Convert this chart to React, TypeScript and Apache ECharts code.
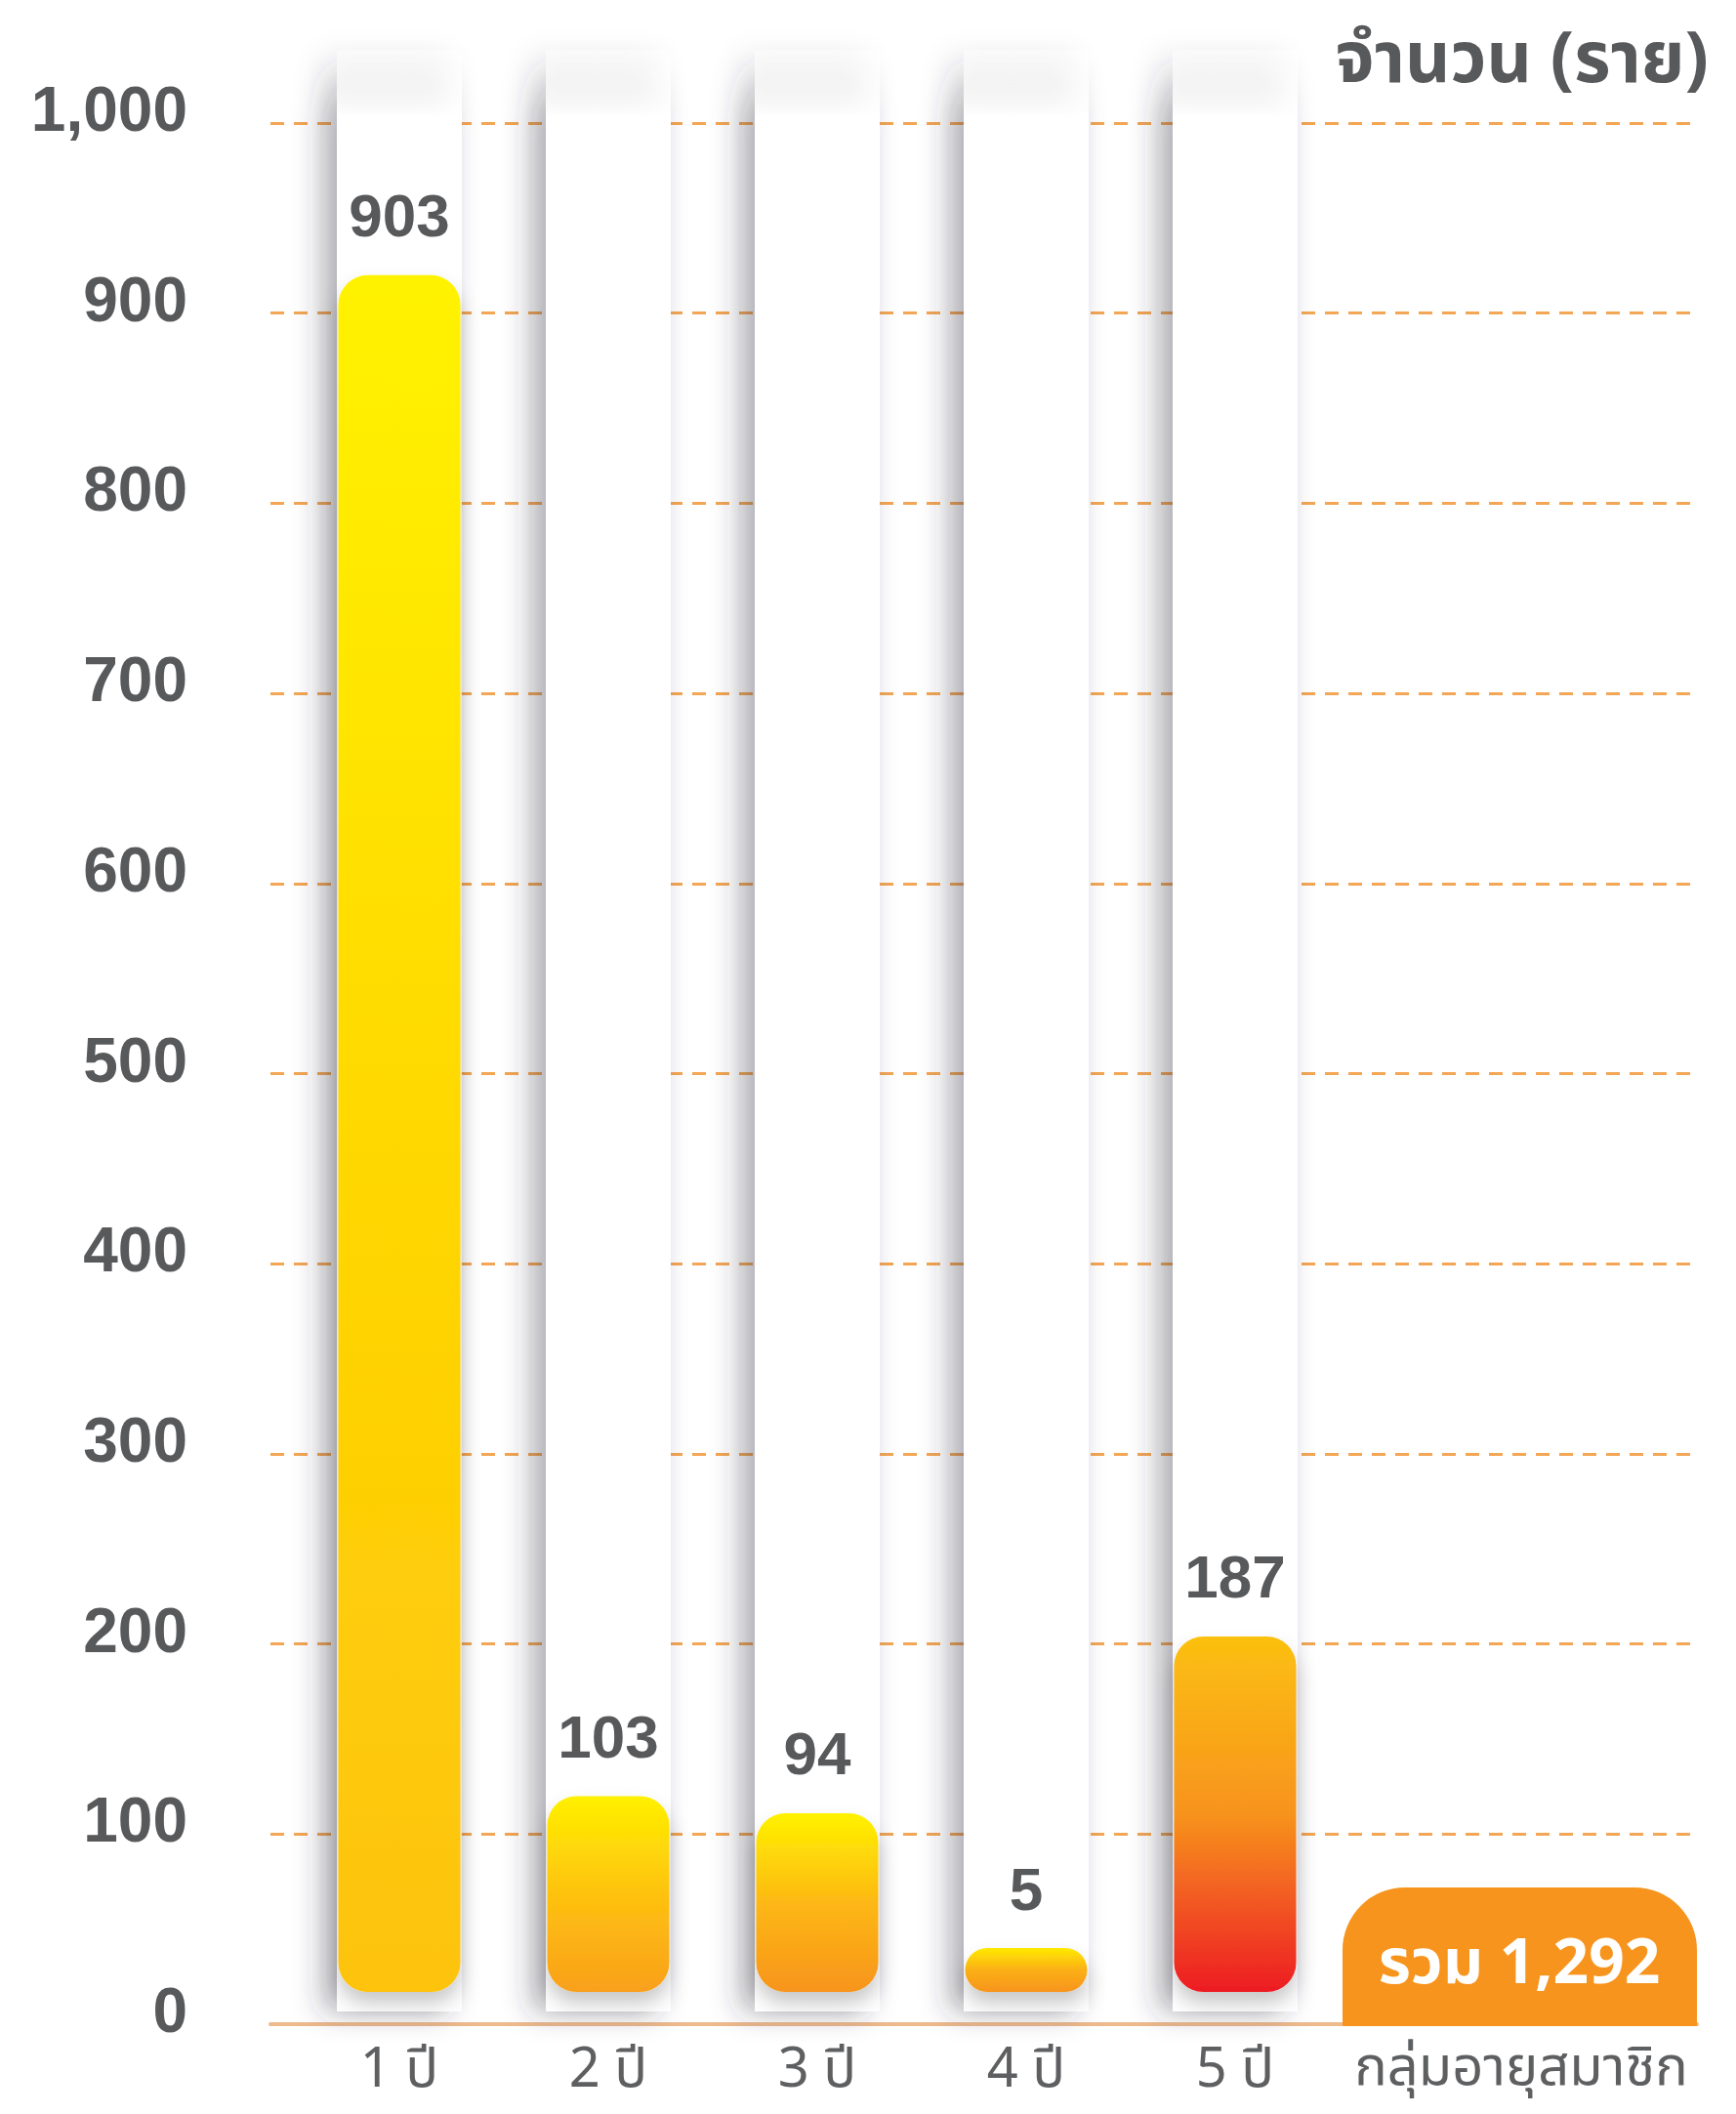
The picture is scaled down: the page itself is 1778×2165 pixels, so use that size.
import React, { useEffect, useRef } from 'react';
import * as echarts from 'echarts';

const categories = ['1 ปี', '2 ปี', '3 ปี', '4 ปี', '5 ปี'];
const members = [903, 103, 94, 5, 187];
const topColors = ['#FFF200', '#FFF000', '#FFF200', '#FFEA00', '#FCC010'];
const midColors = ['#FFD800', '#FEC20F', '#FDB813', '#FBB016', '#F7931E'];
const bottomColors = ['#FDC30E', '#F9A01B', '#F7941D', '#F7941D', '#ED1C24'];
const yMax = 1000;
const yStep = 100;
const yUnit = 'จำนวน (ราย)';
const xTitle = 'กลุ่มอายุสมาชิก';
const totalWord = 'รวม';

const THAI = "'Noto Sans Thai', 'Liberation Sans', 'DejaVu Sans', sans-serif";
const NUM = "'Liberation Sans', 'Noto Sans Thai', Arial, sans-serif";

export default function App() {
  const ref = useRef<HTMLDivElement>(null);
  useEffect(() => {
    if (!ref.current) return;
    const chart = echarts.init(ref.current, undefined, { renderer: 'svg' });
    const total = members.reduce((a, b) => a + b, 0);
    const option: any = {
      animation: false,
      backgroundColor: '#ffffff',
      grid: [
        { left: 277, right: 40, top: 126, bottom: 92 },
        { left: 302, right: 406, top: 50, bottom: 105 },
        { left: 302, right: 406, top: 93, bottom: 125 },
      ],
      xAxis: [
        {
          gridIndex: 0, type: 'value', min: 0, max: 1,
          axisLine: { show: true, lineStyle: { color: '#EDBA8C', width: 4 } },
          axisTick: { show: false }, axisLabel: { show: false }, splitLine: { show: false },
        },
        { gridIndex: 1, type: 'category', data: categories, show: false },
        {
          gridIndex: 2, type: 'category', data: categories,
          axisLine: { show: false }, axisTick: { show: false },
          axisLabel: { margin: 52, fontSize: 56, lineHeight: 56, color: '#5E5F61', fontFamily: THAI },
        },
      ],
      yAxis: [
        {
          gridIndex: 0, type: 'value', min: 0, max: yMax, interval: yStep,
          axisLine: { show: false }, axisTick: { show: false },
          axisLabel: {
            formatter: (v: number) => v.toLocaleString('en-US'),
            fontSize: 64, fontWeight: 'bold', color: '#58595B', fontFamily: NUM,
            margin: 85, verticalAlign: 'bottom', lineHeight: 28,
          },
          splitLine: { show: true, lineStyle: { type: [14, 10], color: '#F3A655', width: 3 } },
        },
        { gridIndex: 1, type: 'value', min: 0, max: 1, show: false },
        { gridIndex: 2, type: 'value', min: 0, max: yMax, show: false },
      ],
      series: [
        {
          type: 'bar', xAxisIndex: 1, yAxisIndex: 1, barWidth: 128, silent: true,
          data: categories.map(() => 1),
          itemStyle: {
            color: new echarts.graphic.LinearGradient(0, 0, 0, 1, [
              { offset: 0, color: 'rgba(255,255,255,0)' },
              { offset: 0.035, color: '#ffffff' },
              { offset: 1, color: '#ffffff' },
            ]),
            shadowColor: 'rgba(50,50,60,0.4)', shadowBlur: 30, shadowOffsetX: -14, shadowOffsetY: 0,
          },
          z: 2,
        },
        {
          type: 'bar', xAxisIndex: 2, yAxisIndex: 2, barWidth: 125, barMinHeight: 45,
          data: members.map((v, i) => ({
            value: v,
            itemStyle: {
              color: new echarts.graphic.LinearGradient(0, 0, 0, 1, [
                { offset: 0, color: topColors[i] },
                { offset: 0.5, color: midColors[i] },
                { offset: 1, color: bottomColors[i] },
              ]),
            },
          })),
          itemStyle: {
            borderRadius: 30,
            shadowColor: 'rgba(0,0,0,0.22)', shadowBlur: 20, shadowOffsetY: 12,
          },
          label: {
            show: true, position: 'top', distance: 30,
            fontSize: 62, fontWeight: 'bold', color: '#58595B', fontFamily: NUM,
          },
          z: 5,
        },
      ],
      graphic: [
        {
          type: 'text', z: 100, x: 1750, y: 62,
          style: { text: yUnit, fill: '#58595B', fontSize: 72, fontWeight: 'bold', fontFamily: THAI, align: 'right', verticalAlign: 'middle' },
        },
        {
          type: 'rect', z: 100,
          shape: { x: 1375, y: 1933, width: 363, height: 142, r: [64, 64, 0, 0] },
          style: { fill: '#F7941D' },
        },
        {
          type: 'text', z: 101, x: 1556, y: 2011,
          style: { text: `${totalWord} ${total.toLocaleString('en-US')}`, fill: '#ffffff', fontSize: 64, fontWeight: 'bold', fontFamily: THAI, align: 'center', verticalAlign: 'middle' },
        },
        {
          type: 'text', z: 100, x: 1558, y: 2118,
          style: { text: xTitle, fill: '#5E5F61', fontSize: 56, lineHeight: 50, fontFamily: THAI, align: 'center', verticalAlign: 'middle' },
        },
      ],
    };
    chart.setOption(option);
    return () => chart.dispose();
  }, []);
  return <div ref={ref} style={{ position: 'absolute', left: 0, top: 0, width: 1778, height: 2165 }} />;
}
